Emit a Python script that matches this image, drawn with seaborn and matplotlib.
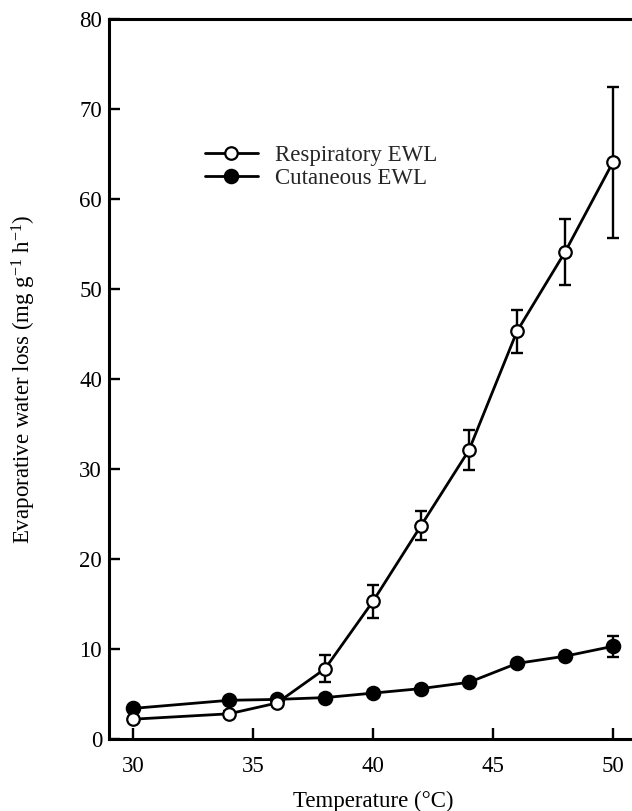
import numpy as np
import pandas as pd
import matplotlib
matplotlib.use("Agg")
import matplotlib.pyplot as plt
import seaborn as sns

# ---- data ----
temps_resp = [30, 34, 36, 38, 40, 42, 44, 46, 48, 50]
resp_ewl = [2.2, 2.8, 4.0, 7.8, 15.3, 23.7, 32.1, 45.3, 54.1, 64.1]
resp_err = [0.2, 0.3, 0.3, 1.5, 1.8, 1.6, 2.2, 2.4, 3.7, 8.4]

temps_cut = [30, 34, 36, 38, 40, 42, 44, 46, 48, 50]
cut_ewl = [3.4, 4.3, 4.4, 4.6, 5.1, 5.6, 6.3, 8.4, 9.2, 10.3]
cut_err = [0.3, 0.3, 0.3, 0.3, 0.3, 0.3, 0.3, 0.4, 0.4, 1.15]

x_ticks = [30, 35, 40, 45, 50]
y_ticks = [0, 10, 20, 30, 40, 50, 60, 70, 80]

sns.set_theme(style="ticks")
plt.rcParams['font.family'] = ['Liberation Serif', 'DejaVu Serif']
plt.rcParams['mathtext.fontset'] = 'custom'
plt.rcParams['mathtext.rm'] = 'Liberation Serif'
plt.rcParams['mathtext.it'] = 'Liberation Serif:italic'

FS = 16.5

fig = plt.figure(figsize=(6.32, 8.11), dpi=100)
ax = fig.add_axes([109/632, 72/811, 528/632, 720/811])

df_cut = pd.DataFrame({"T": temps_cut, "EWL": cut_ewl})
df_resp = pd.DataFrame({"T": temps_resp, "EWL": resp_ewl})

lw = 2.0
ax.errorbar(temps_cut, cut_ewl, yerr=cut_err, fmt='none', ecolor='black',
            elinewidth=1.7, capsize=4, capthick=1.7, zorder=2)
sns.lineplot(data=df_cut, x="T", y="EWL", ax=ax, color='black', linewidth=lw,
             marker='o', markersize=10, markerfacecolor='black',
             markeredgecolor='black', markeredgewidth=1.2, zorder=3,
             label='Cutaneous EWL')
ax.errorbar(temps_resp, resp_ewl, yerr=resp_err, fmt='none', ecolor='black',
            elinewidth=1.7, capsize=4, capthick=1.7, zorder=4)
sns.lineplot(data=df_resp, x="T", y="EWL", ax=ax, color='black', linewidth=lw,
             marker='o', markersize=9, markerfacecolor='white',
             markeredgecolor='black', markeredgewidth=1.6, zorder=5,
             label='Respiratory EWL')

ax.set_xlim(29, 51)
ax.set_ylim(0, 80)
ax.set_xticks(x_ticks)
ax.set_yticks(y_ticks)
ax.tick_params(direction='in', length=8, width=1.7, labelsize=FS,
               colors='black')
ax.tick_params(axis='x', pad=12)
ax.tick_params(axis='y', pad=5)
for s in ax.spines.values():
    s.set_linewidth(2.2)
    s.set_color('black')
ax.spines['right'].set_visible(False)

ax.set_xlabel('Temperature (°C)', fontsize=FS, labelpad=10, color='black')
ax.set_ylabel(r'Evaporative water loss (mg g$^{-1}$ h$^{-1}$)', fontsize=FS,
              labelpad=30, color='black')

handles, labels = ax.get_legend_handles_labels()
order = [labels.index('Respiratory EWL'), labels.index('Cutaneous EWL')]
ax.legend([handles[i] for i in order], [labels[i] for i in order],
          loc='upper left', bbox_to_anchor=(0.1815, 0.8255), frameon=False,
          fontsize=FS, handlelength=2.3, handletextpad=0.78,
          labelspacing=0.12, borderaxespad=0, borderpad=0)

fig.savefig('out.png', dpi=100)
